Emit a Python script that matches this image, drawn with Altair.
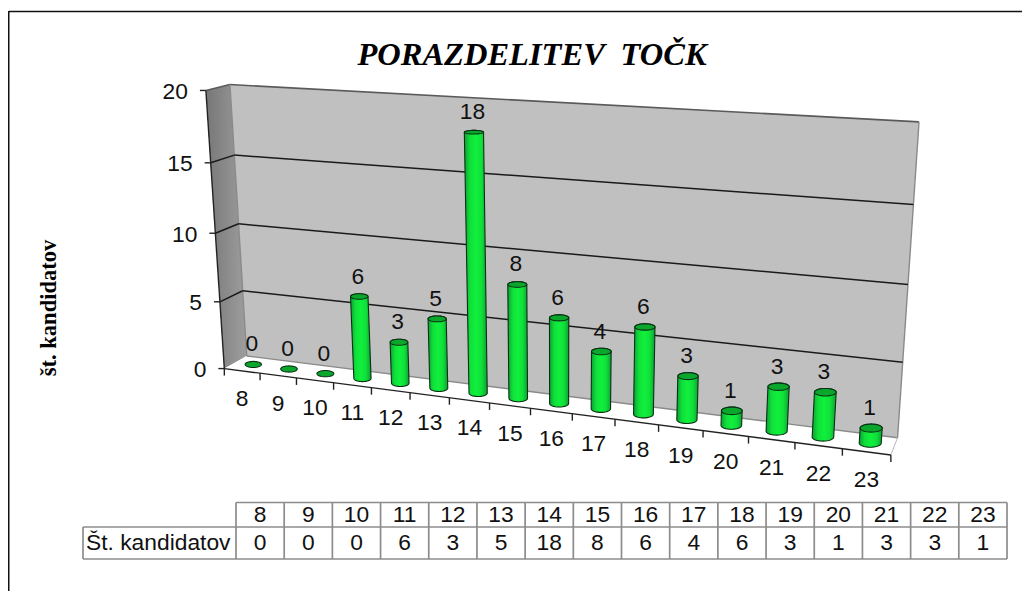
import numpy as np
import pandas as pd
import altair as alt

# ---- chart values ----
categories = [8, 9, 10, 11, 12, 13, 14, 15, 16, 17, 18, 19, 20, 21, 22, 23]
values = [0, 0, 0, 6, 3, 5, 18, 8, 6, 4, 6, 3, 1, 3, 3, 1]
y_ticks = [0, 5, 10, 15, 20]
title_text = "PORAZDELITEV \u00a0TOČK"
y_title = "št. kandidatov"
row_label = "Št. kandidatov"

# ---- page-size canvas and camera of the 3-D box ----
W, H = 1014, 583
SANS = "Liberation Sans"
SERIF = "Liberation Serif"
FS = 22.8

# box coords (u: category axis 0..16, v: value 0..20, d: depth 0 front..1 back) -> seen on page
camera_views = [
    (0, 0, 0, 224, 368), (0, 5, 0, 220, 301), (0, 10, 0, 216, 233), (0, 15, 0, 211, 162), (0, 20, 0, 205, 91),
    (0, 0, 1, 246, 357), (0, 5, 1, 243, 290), (0, 10, 1, 239, 224), (0, 15, 1, 234, 155), (0, 20, 1, 230, 85),
    (16, 0, 1, 898, 437), (16, 5, 1, 902, 362), (16, 10, 1, 908, 284), (16, 15, 1, 914, 205), (16, 20, 1, 919, 122),
    (16, 0, 0, 891, 454), (1, 0, 0, 260, 373), (2, 0, 0, 297, 378), (3, 0, 0, 334, 383), (4, 0, 0, 372, 388),
    (5, 0, 0, 410, 393), (6, 0, 0, 449, 398), (7, 0, 0, 489, 403), (11, 0, 0, 658, 425), (12, 0, 0, 703, 431),
    (13, 0, 0, 749, 437), (14, 0, 0, 795, 443), (15, 0, 0, 842, 449),
]
rows = []
for u, v, d, sx, sy in camera_views:
    P = [u / 16, v / 20, d, 1]
    rows.append(P + [0, 0, 0, 0] + [-sx / 1000 * a for a in P])
    rows.append([0, 0, 0, 0] + P + [-sy / 1000 * a for a in P])
CAM = np.linalg.svd(np.array(rows))[2][-1].reshape(3, 4)


def project(u, v, d):
    p = CAM @ np.array([u / 16, v / 20, d, 1.0])
    return float(p[0] / p[2] * 1000), float(p[1] / p[2] * 1000)


def hull(points):
    pts = sorted(set((round(a, 3), round(b, 3)) for a, b in points))
    def half(seq):
        out = []
        for p in seq:
            while len(out) > 1 and (out[-1][0] - out[-2][0]) * (p[1] - out[-2][1]) - (out[-1][1] - out[-2][1]) * (p[0] - out[-2][0]) <= 0:
                out.pop()
            out.append(p)
        return out
    return half(pts)[:-1] + half(pts[::-1])[:-1]


def shape(points, key=0):
    """Convex outline as x / upper y / lower y rows for an area mark."""
    h = hull(points)
    xs = sorted(set(p[0] for p in h))
    n = len(h)
    res = []
    for x in xs:
        ys = []
        for i in range(n):
            a, b = h[i], h[(i + 1) % n]
            if min(a[0], b[0]) <= x <= max(a[0], b[0]):
                if a[0] == b[0]:
                    ys += [a[1], b[1]]
                else:
                    ys.append(a[1] + (b[1] - a[1]) * (x - a[0]) / (b[0] - a[0]))
        res.append({"x": x, "y": min(ys), "y2": max(ys), "k": key})
    return res


X = alt.X("x:Q", scale=alt.Scale(domain=[8, 8 + W], range=[0, W], nice=False, zero=False), axis=None)
Y = alt.Y("y:Q", scale=alt.Scale(domain=[8, 8 + H], range=[0, H], nice=False, zero=False), axis=None)
X2 = alt.X2("x2:Q")
Y2 = alt.Y2("y2:Q")


def area(rows_, **mark):
    return alt.Chart(pd.DataFrame(rows_)).mark_area(orient="vertical", **mark).encode(x=X, y=Y, y2=Y2, detail="k:N")


def segs(pairs, color, width):
    df = pd.DataFrame([{"x": a[0], "y": a[1], "x2": b[0], "y2": b[1]} for a, b in pairs])
    return alt.Chart(df).mark_rule(color=color, strokeWidth=width).encode(x=X, y=Y, x2=X2, y2=Y2)


def text(rows_, size=FS, font=SANS, color="#111111", **mark):
    df = pd.DataFrame(rows_, columns=["x", "y", "t"])
    return alt.Chart(df).mark_text(fontSize=size, font=font, color=color, baseline="middle", **mark).encode(x=X, y=Y, text="t:N")


def hgrad(*stops):
    return alt.LinearGradient(gradient="linear", x1=0, x2=1, y1=0, y2=0,
                              stops=[alt.GradientStop(offset=o, color=c) for o, c in stops])


layers = []
N = len(categories)

# frame
layers.append(segs([((9, 11.5), (8 + W, 11.5)), ((8.7, 11), (8.7, 8 + H))], "#111111", 1.6))

# walls and floor
layers.append(area(shape([project(0, 0, 0), project(0, 20, 0), project(0, 20, 1), project(0, 0, 1)]),
                   color=hgrad((0, "#777777"), (1, "#9e9e9e"))))
layers.append(area(shape([project(0, 0, 1), project(0, 20, 1), project(N, 20, 1), project(N, 0, 1)]), color="#c0c0c0"))
layers.append(area(shape([project(0, 0, 0), project(0, 0, 1), project(N, 0, 1), project(N, 0, 0)]), color="#ffffff"))

# box edges
layers.append(segs([(project(0, 20, 1), project(N, 20, 1)), (project(0, 20, 0), project(0, 20, 1))], "#5a5a5a", 1.6))
layers.append(segs([(project(N, 0, 1), project(N, 20, 1)), (project(0, 0, 1), project(N, 0, 1)), (project(0, 0, 1), project(0, 20, 1))], "#8a8a8a", 1.4))
layers.append(segs([(project(N, 0, 0), project(N, 0, 1))], "#bbbbbb", 1))

# gridlines
grid = []
for v in y_ticks[1:-1]:
    grid += [(project(0, v, 0), project(0, v, 1)), (project(0, v, 1), project(N, v, 1))]
layers.append(segs(grid, "#1a1a1a", 1.5))

# axes
ax = [(project(0, 0, 0), project(0, 20, 0)), (project(0, 0, 0), project(N, 0, 0))]
for v in y_ticks:
    a = project(0, v, 0)
    ax.append((a, (a[0] - 6, a[1])))
for i in range(N + 1):
    a = project(i, 0, 0)
    ax.append((a, (a[0], a[1] + 7)))
layers.append(segs(ax, "#222222", 1.4))

# cylinders
RU, RD = 0.23, 0.24
def ring(i, v, steps=32):
    cx, cy = project(i + 0.5, v, 0.5)
    a = (project(i + 0.5 + RU, v, 0.5)[0] - project(i + 0.5 - RU, v, 0.5)[0]) / 2
    b = abs(project(i + 0.5, v, 0.5 + RD)[1] - project(i + 0.5, v, 0.5 - RD)[1]) / 2
    return [(cx + a * np.cos(t), cy + b * np.sin(t)) for t in np.linspace(0, 2 * np.pi, steps, endpoint=False)]

bodies, caps = [], []
for i, val in enumerate(values):
    if val > 0:
        bodies += shape(ring(i, 0) + ring(i, val), i)
    caps += shape(ring(i, val), i)
body_grad = hgrad((0, "#0c9f33"), (0.25, "#10e03a"), (0.5, "#10f03c"), (0.75, "#10e03a"), (1, "#0c9f33"))
layers.append(area(bodies, color=body_grad, stroke="#0a3013", strokeWidth=1.1))
layers.append(area(caps, color="#0aa72c", stroke="#0a3013", strokeWidth=1.1))

# value labels
labels = []
for i, val in enumerate(values):
    px, py = project(i + 0.5, val, 0.5)
    labels.append((px - 1.5, py - 20, str(val)))
layers.append(text(labels, align="center"))

# axis labels
layers.append(text([(project(0, v, 0)[0] - 18, project(0, v, 0)[1] + 1.5, str(v)) for v in y_ticks], align="right"))
layers.append(text([(project(i + 0.5, 0, 0)[0], project(i + 0.5, 0, 0)[1] + 28, str(c)) for i, c in enumerate(categories)], align="center"))

# titles
layers.append(text([(532, 55, title_text)], size=32.5, font=SERIF, color="#000000", fontWeight="bold", fontStyle="italic", align="center"))
layers.append(text([(49, 308, y_title)], size=22.5, font=SERIF, color="#000000", fontWeight="bold", angle=270, align="center"))

# data table
T_X0, T_X1, T_LEFT, T_TOP, T_MID, T_BOT = 236, 1007, 83, 502.5, 527, 559
cw = (T_X1 - T_X0) / N
lines = [((T_X0, T_TOP), (T_X1, T_TOP)), ((T_LEFT, T_MID), (T_X1, T_MID)), ((T_LEFT, T_BOT), (T_X1, T_BOT)), ((T_LEFT, T_MID), (T_LEFT, T_BOT))]
for i in range(N + 1):
    lines.append(((T_X0 + i * cw, T_TOP), (T_X0 + i * cw, T_BOT)))
layers.append(segs(lines, "#8c8c8c", 1.7))
layers.append(text([(T_X0 + (i + 0.5) * cw, 514.5, str(c)) for i, c in enumerate(categories)], align="center"))
layers.append(text([(T_X0 + (i + 0.5) * cw, 543, str(v)) for i, v in enumerate(values)], align="center"))
layers.append(text([(86, 543, row_label)], align="left"))

chart = alt.layer(*layers).properties(
    width=W, height=H, padding=0, autosize=alt.AutoSizeParams(type="none"), background="#ffffff"
).configure_view(stroke=None)

chart.save("out.html", embed_options={"renderer": "svg", "actions": False})
